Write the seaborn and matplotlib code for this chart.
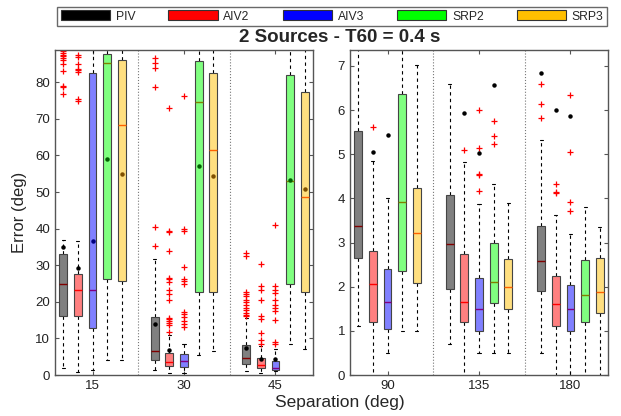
import numpy as np
import matplotlib
matplotlib.use("Agg")
import matplotlib.pyplot as plt
from matplotlib.patches import Patch
import seaborn as sns

# =====================================================
# DATA
# =====================================================
methods = ['PIV', 'AIV2', 'AIV3', 'SRP2', 'SRP3']
sep_left = ['15', '30', '45']
sep_right = ['90', '135', '180']

# left panel: one row per separation, one value per method
q1_left = [[16.0, 16.0, 12.9, 26.2, 25.7],
           [4.1, 2.5, 2.3, 22.8, 22.8],
           [2.9, 1.8, 1.3, 25.0, 22.8]]
med_left = [[25.0, 23.2, 23.2, 85.2, 68.4],
            [6.6, 3.5, 3.8, 74.6, 61.4],
            [4.6, 2.7, 1.8, 52.9, 48.5]]
q3_left = [[33.0, 27.5, 82.6, 87.6, 86.0],
           [15.9, 6.0, 5.8, 85.8, 82.4],
           [8.1, 4.6, 3.8, 82.0, 77.4]]
lo_left = [[1.9, 0.8, 1.5, 4.0, 4.0],
           [1.5, 0.5, 0.6, 5.5, 6.5],
           [1.0, 0.6, 1.0, 8.4, 7.0]]
hi_left = [[36.9, 36.5, 95.0, 95.0, 95.0],
           [31.8, 11.0, 8.4, 95.0, 95.0],
           [15.6, 7.9, 7.0, 95.0, 95.0]]
mean_left = [[35.0, 29.1, 36.5, 58.9, 55.0],
             [13.8, 6.8, None, 57.1, 54.5],
             [7.4, 4.5, 4.3, 53.4, 50.9]]
fliers_left = [
    [[88.5, 88.0, 87.5, 87.1, 86.6, 86.2, 85.1, 83.0, 79.1, 78.7, 76.9],
     [87.5, 86.8, 85.1, 83.6, 83.3, 82.8, 75.3, 74.8],
     [], [], []],
    [[86.5, 85.3, 83.9, 78.8, 40.5, 35.3],
     [72.9, 39.4, 39.0, 33.8, 26.5, 26.1, 25.3, 23.2, 22.0, 20.5,
      15.7, 15.3, 14.7, 14.1, 13.6, 11.8],
     [76.2, 39.8, 39.4, 29.5, 26.1, 25.6, 24.8, 17.1, 16.6, 15.9,
      14.7, 13.8, 13.2],
     [], []],
    [[33.4, 32.4, 22.8, 22.2, 21.5, 20.6, 19.9, 19.2, 18.4, 17.7,
      17.0, 16.5, 16.1],
     [30.3, 24.4, 23.2, 20.5, 16.1, 15.3, 11.5, 9.5, 8.5],
     [41.1, 24.4, 23.2, 22.5, 20.5, 19.1, 18.2, 17.5, 15.0, 9.1, 8.4],
     [], []],
]

# right panel
q1_right = [[2.65, 1.19, 1.05, 2.35, 2.08],
            [1.95, 1.20, 1.00, 1.62, 1.50],
            [1.90, 1.10, 1.00, 1.20, 1.40]]
med_right = [[3.37, 2.07, 1.66, 3.92, 3.22],
             [2.96, 1.66, 1.50, 2.10, 2.00],
             [2.58, 1.61, 1.50, 1.82, 1.87]]
q3_right = [[5.53, 2.80, 2.41, 6.36, 4.23],
            [4.08, 2.75, 2.20, 3.00, 2.62],
            [3.38, 2.25, 2.03, 2.61, 2.65]]
lo_right = [[1.11, -0.3, 0.49, 1.0, 1.0],
            [0.70, -0.3, 0.50, 0.5, 0.5],
            [0.50, -0.3, -0.3, -0.3, -0.3]]
hi_right = [[8.0, 4.85, 4.0, 8.0, 7.03],
            [6.59, 4.82, 3.87, 4.33, 3.90],
            [5.32, 3.62, 3.19, 3.80, 3.35]]
mean_right = [[None, 5.05, 5.43, None, None],
              [None, 5.94, 5.03, 6.57, None],
              [6.85, 6.00, 5.86, None, None]]
fliers_right = [
    [[], [5.62], [], [], []],
    [[], [5.10], [6.00, 5.15, 4.56, 4.53, 4.16], [5.75, 5.41, 5.23], []],
    [[6.58, 6.13, 5.83], [4.32, 4.15, 4.13], [6.33, 5.04, 3.91, 3.71], [], []],
]

# =====================================================
# STYLE
# =====================================================
sns.set_style("ticks", {"xtick.direction": "in", "ytick.direction": "in"})
plt.rcParams['font.family'] = ['Liberation Sans', 'DejaVu Sans']

legend_colors = ['#000000', '#ff0000', '#0000ff', '#00ff00', '#ffbf00']
box_colors = ['#808080', '#ff8080', '#8080ff', '#80ff80', '#ffdf80']
median_colors = ['#800000', '#ff0000', '#800080', '#808000', '#ff6000']
mean_colors = ['#000000', '#000000', '#000080', '#006000', '#805000']
offsets = [-0.32, -0.16, 0.0, 0.16, 0.32]
frame_col = '#555555'


def draw_panel(ax, labels, q1, med, q3, lo, hi, means, fliers, ymax, yticks):
    stats, pos = [], []
    for g in range(len(labels)):
        for m in range(len(methods)):
            stats.append(dict(q1=q1[g][m], med=med[g][m], q3=q3[g][m],
                              whislo=lo[g][m], whishi=hi[g][m],
                              fliers=fliers[g][m]))
            pos.append(g + offsets[m])
    art = ax.bxp(stats, positions=pos, widths=0.085, patch_artist=True,
                 capwidths=0.035,
                 boxprops=dict(edgecolor='#444444', linewidth=0.8, zorder=3),
                 whiskerprops=dict(color='black', linestyle=(0, (3, 3)),
                                   linewidth=0.8),
                 capprops=dict(color='black', linewidth=0.8),
                 medianprops=dict(linewidth=1.0, zorder=4),
                 flierprops=dict(marker='+', markeredgecolor='red',
                                 markersize=5, markeredgewidth=0.9))
    for i, box in enumerate(art['boxes']):
        box.set_facecolor(box_colors[i % 5])
    for i, line in enumerate(art['medians']):
        line.set_color(median_colors[i % 5])
    # mean dots
    for g in range(len(labels)):
        for m in range(len(methods)):
            if means[g][m] is not None:
                inside = q1[g][m] <= means[g][m] <= q3[g][m]
                ax.plot(g + offsets[m], means[g][m], 'o', markersize=2.2,
                        color=mean_colors[m] if inside else 'black',
                        zorder=5)
    for x in [0.5, 1.5]:
        ax.axvline(x, color='#777777', linestyle=':', linewidth=0.8, zorder=0)
    ax.set_xlim(-0.41, 2.41)
    ax.set_ylim(0, ymax)
    ax.set_xticks(range(len(labels)))
    ax.set_xticklabels(labels)
    ax.set_yticks(yticks)
    ax.tick_params(top=True, right=True, direction='in', length=3,
                   labelsize=9.5, color=frame_col, labelcolor='#222222')
    for s in ax.spines.values():
        s.set_visible(True)
        s.set_color(frame_col)
        s.set_linewidth(1.0)


fig = plt.figure(figsize=(6.21, 4.16), dpi=100)
ax1 = fig.add_axes([55 / 621, 41 / 416, 258 / 621, 325 / 416])
ax2 = fig.add_axes([350 / 621, 41 / 416, 258 / 621, 325 / 416])

draw_panel(ax1, sep_left, q1_left, med_left, q3_left, lo_left, hi_left,
           mean_left, fliers_left, 88.8, range(0, 90, 10))
draw_panel(ax2, sep_right, q1_right, med_right, q3_right, lo_right, hi_right,
           mean_right, fliers_right, 7.36, range(0, 8))

ax1.set_ylabel('Error (deg)', fontsize=12, labelpad=6)
fig.text(340 / 621, 6 / 416, 'Separation (deg)', ha='center', va='bottom',
         fontsize=12.5)
fig.text(340 / 621, 1 - 38 / 416, '2 Sources - T60 = 0.4 s', ha='center',
         va='center', fontsize=13.5, fontweight='bold')

handles = [Patch(facecolor=c, edgecolor='#333333', linewidth=0.8)
           for c in legend_colors]
leg = fig.legend(handles, methods, ncol=5, loc='center', mode='expand',
                 bbox_to_anchor=(57 / 621, 1 - 26 / 416, 550 / 621, 19 / 416),
                 fontsize=8.7, frameon=True, fancybox=False,
                 handlelength=4.1, handleheight=0.85, columnspacing=2.0,
                 handletextpad=0.45, borderpad=0.3, borderaxespad=0.0)
leg.get_frame().set_edgecolor('#444444')
leg.get_frame().set_linewidth(1.0)

plt.savefig("out.png", dpi=100)
